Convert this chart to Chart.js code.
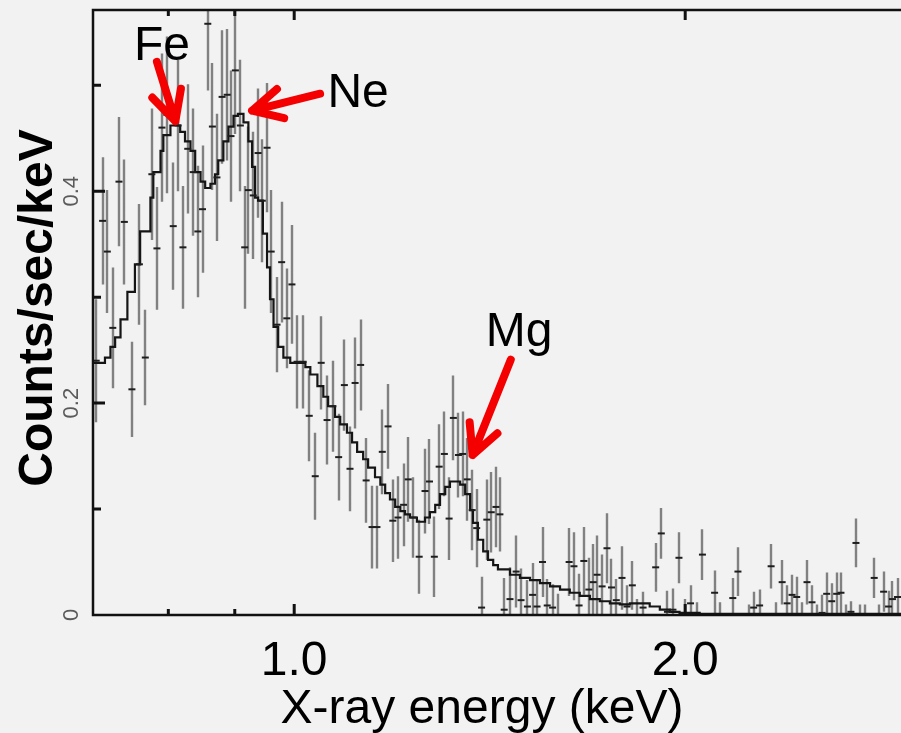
<!DOCTYPE html>
<html>
<head>
<meta charset="utf-8">
<title>X-ray spectrum</title>
<script src="https://cdn.jsdelivr.net/npm/chart.js@4.4.1/dist/chart.umd.min.js"></script>
<style>
  html, body { margin: 0; padding: 0; background: #f2f2f2; }
  #wrap { width: 901px; height: 733px; position: relative; }
</style>
</head>
<body>
<div id="wrap"><canvas id="spec"></canvas></div>
<script>
// measured spectrum: bin energy (keV), rate (counts/sec/keV), 1-sigma error
const energy = [0.704,0.712,0.718,0.725,0.733,0.740,0.750,0.760,0.768,0.777,
  0.784,0.791,0.798,0.807,0.814,0.821,0.828,0.836,0.843,0.850,
  0.858,0.865,0.872,0.880,0.888,0.894,0.901,0.909,0.916,0.922,
  0.930,0.938,0.945,0.953,0.960,0.970,0.978,0.987,0.996,1.005,
  1.016,1.027,1.038,1.049,1.060,1.071,1.082,1.093,1.104,1.114,
  1.125,1.136,1.148,1.158,1.169,1.181,1.191,1.202,1.214,1.224,
  1.235,1.248,1.261,1.271,1.282,1.293,1.305,1.316,1.326,1.338,
  1.348,1.359,1.371,1.382,1.394,1.407,1.418,1.430,1.440,1.451,
  1.466,1.482,1.495,1.512,1.526,1.538,1.553,1.566,1.581,1.596,
  1.628,1.642,1.657,1.671,1.686,1.699,1.711,1.726,1.741,1.755,
  1.770,1.788,1.804,1.821,1.837,1.856,1.898,1.917,1.938,1.957,
  1.978,1.998,2.019,2.042,2.062,2.107,2.129,2.176,2.196,2.241,
  2.258,2.282,2.329,2.350,2.375,2.396,2.417,2.437,2.461,2.482,
  2.504,2.527,2.549,2.570,2.593,2.616,2.636,2.660,2.683,2.707,
  2.728,2.752,2.796,2.821,2.843,2.868,2.888,2.914];

const rate = [0.240,0.372,0.343,0.271,0.409,0.371,0.213,0.331,0.243,0.416,
  0.346,0.460,0.472,0.367,0.462,0.347,0.440,0.418,0.362,0.383,
  0.558,0.461,0.413,0.489,0.491,0.452,0.514,0.462,0.347,0.401,
  0.396,0.436,0.391,0.441,0.343,0.274,0.333,0.280,0.312,0.239,
  0.239,0.188,0.131,0.238,0.184,0.197,0.149,0.217,0.138,0.219,
  0.236,0.127,0.083,0.083,0.154,0.178,0.089,0.092,0.104,0.128,
  0.092,0.055,0.117,0.126,0.055,0.140,0.152,0.091,0.186,0.151,
  0.152,0.128,0.099,0.082,0.007,0.090,0.097,0.102,0.095,0.005,
  0.015,0.041,0.014,0.008,0.019,0.008,0.050,0.009,0.007,0.000,
  0.050,0.046,0.009,0.051,0.024,0.031,0.038,0.027,0.063,0.026,
  0.014,0.035,0.008,0.028,0.000,0.007,0.045,0.077,0.003,0.005,
  0.054,0.000,0.011,0.000,0.057,0.021,0.000,0.016,0.041,0.000,
  0.007,0.009,0.046,0.000,0.031,0.011,0.019,0.017,0.000,0.031,
  0.012,0.000,0.002,0.020,0.013,0.020,0.021,0.000,0.003,0.068,
  0.000,0.000,0.035,0.000,0.022,0.008,0.015,0.017];

const rateErr = [0.058,0.060,0.058,0.057,0.061,0.059,0.045,0.057,0.045,0.062,
  0.058,0.070,0.074,0.060,0.062,0.058,0.061,0.060,0.062,0.060,
  0.063,0.060,0.060,0.063,0.062,0.062,0.060,0.062,0.058,0.060,
  0.060,0.061,0.058,0.061,0.058,0.045,0.057,0.047,0.056,0.044,
  0.044,0.043,0.041,0.044,0.042,0.043,0.041,0.043,0.040,0.043,
  0.043,0.040,0.039,0.039,0.040,0.040,0.039,0.039,0.039,0.040,
  0.038,0.035,0.040,0.040,0.038,0.040,0.040,0.039,0.040,0.040,
  0.040,0.039,0.038,0.037,0.029,0.038,0.038,0.038,0.035,0.030,
  0.030,0.034,0.030,0.025,0.030,0.025,0.033,0.025,0.022,0.020,
  0.032,0.032,0.030,0.032,0.030,0.036,0.037,0.030,0.033,0.027,
  0.020,0.030,0.020,0.023,0.015,0.015,0.023,0.024,0.020,0.020,
  0.024,0.015,0.017,0.012,0.024,0.021,0.012,0.019,0.023,0.010,
  0.015,0.015,0.021,0.012,0.021,0.017,0.019,0.019,0.012,0.021,
  0.016,0.010,0.017,0.020,0.017,0.020,0.019,0.010,0.010,0.023,
  0.010,0.010,0.019,0.010,0.019,0.015,0.017,0.018];

// folded model: left edge of each bin (keV) and model rate
const modelEnergy = [0.700,0.715,0.722,0.728,0.735,0.744,0.754,0.761,0.775,0.779,
  0.789,0.793,0.803,0.817,0.824,0.832,0.839,0.847,0.854,0.862,
  0.869,0.874,0.882,0.890,0.898,0.905,0.914,0.922,0.928,0.933,
  0.938,0.946,0.953,0.958,0.964,0.972,0.981,0.993,1.020,1.029,
  1.042,1.053,1.062,1.075,1.085,1.098,1.108,1.118,1.130,1.140,
  1.154,1.165,1.175,1.185,1.196,1.207,1.217,1.228,1.243,1.261,
  1.272,1.284,1.295,1.307,1.318,1.342,1.354,1.366,1.373,1.385,
  1.398,1.410,1.423,1.435,1.466,1.492,1.519,1.546,1.574,1.602,
  1.630,1.659,1.689,1.719,1.750,1.781,1.813,1.845,1.878,1.912,
  1.946,1.980,2.052,2.932];

const modelRate = [0.238,0.243,0.253,0.262,0.279,0.305,0.331,0.362,0.394,0.418,
  0.438,0.453,0.462,0.456,0.447,0.438,0.418,0.409,0.403,0.407,
  0.416,0.429,0.447,0.461,0.471,0.473,0.465,0.447,0.423,0.394,
  0.391,0.360,0.328,0.298,0.272,0.253,0.243,0.238,0.234,0.227,
  0.216,0.206,0.197,0.187,0.180,0.172,0.163,0.154,0.147,0.139,
  0.130,0.123,0.115,0.109,0.102,0.098,0.095,0.092,0.088,0.092,
  0.097,0.104,0.114,0.121,0.126,0.123,0.114,0.099,0.087,0.071,
  0.060,0.052,0.047,0.043,0.038,0.035,0.033,0.030,0.027,0.024,
  0.021,0.018,0.015,0.013,0.011,0.010,0.011,0.011,0.008,0.005,
  0.003,0.002,0.001,0.001];

// axis ticks
const xMajorTicks = [1, 2];
const xMajorLabels = ['1.0', '2.0'];
const xMinorTicks = [0.8, 0.9];
const yMajorTicks = [0, 0.2, 0.4];
const yMajorLabels = ['0', '0.2', '0.4'];
const yMinorTicks = [0.1, 0.3, 0.5];

// line annotations
const lineNames = ['Fe', 'Ne', 'Mg'];
const labelE = [0.791, 1.120, 1.490];
const labelRate = [0.524, 0.479, 0.254];
const arrowTailE = [0.784, 1.047, 1.468];
const arrowTailRate = [0.522, 0.492, 0.241];
const arrowTipE = [0.810, 0.928, 1.372];
const arrowTipRate = [0.466, 0.476, 0.151];

const FONT = '"Liberation Sans", Arial, Helvetica, sans-serif';

// vertical error bars, drawn under the bin markers
const errorBars = {
  id: 'errorBars',
  beforeDatasetsDraw(chart) {
    const { ctx, chartArea: a, scales: { x, y } } = chart;
    ctx.save();
    ctx.beginPath();
    ctx.rect(a.left, a.top, a.right - a.left, a.bottom - a.top);
    ctx.clip();
    ctx.strokeStyle = 'rgba(60,60,60,0.62)';
    ctx.lineWidth = 2.4;
    ctx.beginPath();
    energy.forEach((e, i) => {
      const px = Math.round(x.getPixelForValue(e));
      ctx.moveTo(px, y.getPixelForValue(rate[i] + rateErr[i]));
      ctx.lineTo(px, y.getPixelForValue(Math.max(rate[i] - rateErr[i], 0)));
    });
    ctx.stroke();
    ctx.restore();
  }
};

function drawArrow(ctx, x0, y0, x1, y1) {
  const back = Math.atan2(y0 - y1, x0 - x1);
  const len = 33, spread = 27 * Math.PI / 180;
  ctx.beginPath();
  ctx.moveTo(x0, y0);
  ctx.lineTo(x1, y1);
  ctx.moveTo(x1 + len * Math.cos(back - spread), y1 + len * Math.sin(back - spread));
  ctx.lineTo(x1, y1);
  ctx.lineTo(x1 + len * Math.cos(back + spread), y1 + len * Math.sin(back + spread));
  ctx.stroke();
}

// frame, inward ticks, labels, titles and the red arrows
const frameAndText = {
  id: 'frameAndText',
  afterDraw(chart) {
    const { ctx, chartArea: a, scales: { x, y } } = chart;
    ctx.save();

    // frame (no right edge visible in the original crop)
    ctx.strokeStyle = '#111';
    ctx.lineWidth = 2.5;
    ctx.beginPath();
    ctx.moveTo(a.right, a.top); ctx.lineTo(a.left, a.top);
    ctx.lineTo(a.left, a.bottom); ctx.lineTo(a.right, a.bottom);
    ctx.stroke();

    ctx.lineWidth = 3;
    ctx.beginPath();
    xMinorTicks.forEach(v => {
      const px = x.getPixelForValue(v);
      ctx.moveTo(px, a.top); ctx.lineTo(px, a.top + 6);
      ctx.moveTo(px, a.bottom); ctx.lineTo(px, a.bottom - 6);
    });
    xMajorTicks.forEach(v => {
      const px = x.getPixelForValue(v);
      ctx.moveTo(px, a.top); ctx.lineTo(px, a.top + 10);
      ctx.moveTo(px, a.bottom); ctx.lineTo(px, a.bottom - 11);
    });
    yMinorTicks.forEach(v => {
      const py = y.getPixelForValue(v);
      ctx.moveTo(a.left, py); ctx.lineTo(a.left + 8, py);
    });
    yMajorTicks.slice(1).forEach(v => {
      const py = y.getPixelForValue(v);
      ctx.moveTo(a.left, py); ctx.lineTo(a.left + 12, py);
    });
    ctx.stroke();

    // x tick labels and title
    ctx.fillStyle = '#000';
    ctx.textAlign = 'center';
    ctx.textBaseline = 'alphabetic';
    ctx.font = '48px ' + FONT;
    xMajorTicks.forEach((v, i) => {
      ctx.fillText(xMajorLabels[i], x.getPixelForValue(v), 675);
    });
    ctx.fillText('X-ray energy (keV)', 482, 723);

    // y tick labels (rotated, small grey)
    ctx.fillStyle = '#5a5a5a';
    ctx.font = '22px ' + FONT;
    yMajorTicks.forEach((v, i) => {
      ctx.save();
      ctx.translate(78, y.getPixelForValue(v));
      ctx.rotate(-Math.PI / 2);
      ctx.fillText(yMajorLabels[i], 0, 0);
      ctx.restore();
    });

    // y title
    ctx.fillStyle = '#000';
    ctx.font = 'bold 48px ' + FONT;
    ctx.save();
    ctx.translate(52, 308);
    ctx.rotate(-Math.PI / 2);
    ctx.fillText('Counts/sec/keV', 0, 0);
    ctx.restore();

    // element labels with arrows
    ctx.font = '48px ' + FONT;
    ctx.strokeStyle = '#f50000';
    ctx.lineWidth = 8;
    ctx.lineCap = 'round';
    ctx.lineJoin = 'round';
    lineNames.forEach((name, i) => {
      ctx.fillText(name, x.getPixelForValue(labelE[i]), y.getPixelForValue(labelRate[i]));
      drawArrow(ctx,
        x.getPixelForValue(arrowTailE[i]), y.getPixelForValue(arrowTailRate[i]),
        x.getPixelForValue(arrowTipE[i]), y.getPixelForValue(arrowTipRate[i]));
    });

    ctx.restore();
  }
};

new Chart(document.getElementById('spec'), {
  data: {
    datasets: [
      {
        type: 'scatter',
        label: 'data',
        data: energy.map((e, i) => ({ x: e, y: rate[i] })),
        pointStyle: 'line',
        pointRadius: 3.5,
        pointBorderWidth: 2,
        pointBorderColor: '#1e1e1e',
        showLine: false,
        clip: 0
      },
      {
        type: 'line',
        label: 'model',
        data: modelEnergy.map((e, i) => ({ x: e, y: modelRate[i] })),
        stepped: true,
        borderColor: '#151515',
        borderWidth: 2.2,
        pointRadius: 0,
        fill: false
      }
    ]
  },
  options: {
    responsive: true,
    maintainAspectRatio: false,
    animation: false,
    events: [],
    layout: { autoPadding: false, padding: { left: 93, top: 10, right: 0, bottom: 118 } },
    plugins: { legend: { display: false }, tooltip: { enabled: false } },
    scales: {
      x: { type: 'logarithmic', min: 0.7, max: 2.932, display: false },
      y: { type: 'linear', min: 0, max: 0.571, display: false }
    }
  },
  plugins: [errorBars, frameAndText]
});
</script>
</body>
</html>
